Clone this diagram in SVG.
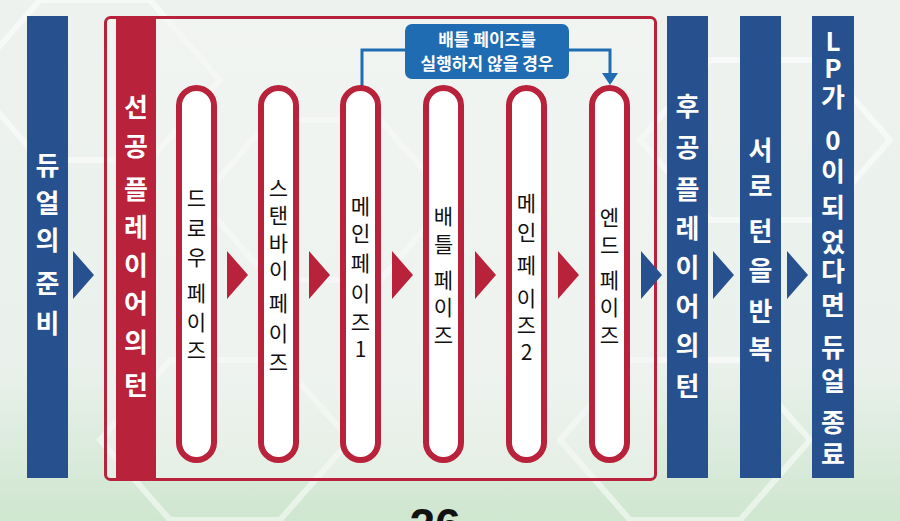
<svg xmlns="http://www.w3.org/2000/svg" width="900" height="521" viewBox="0 0 900 521">
<defs>
<linearGradient id="bg" x1="0" y1="0" x2="0" y2="1">
<stop offset="0" stop-color="#eef2ef"/>
<stop offset="0.7" stop-color="#eaf1ec"/>
<stop offset="1" stop-color="#cfe6cf"/>
</linearGradient>
<style>
.bcol{fill:#27508e}
.rcol{fill:#b8233b}
.pill{fill:#ffffff;stroke:#b8233b;stroke-width:6}
.ctext{font-family:"Noto Sans CJK KR","Noto Sans",sans-serif;font-weight:700;font-size:26px;fill:#ffffff;text-anchor:middle}
.ptext{font-family:"Noto Sans CJK KR","Noto Sans",sans-serif;font-weight:400;font-size:21px;fill:#111111;text-anchor:middle}
.btext{font-family:"Noto Sans CJK KR","Noto Sans",sans-serif;font-weight:700;font-size:17px;fill:#ffffff;text-anchor:middle}
.barr{fill:#27508e}
.rarr{fill:#b8233b}
.hex{fill:none;stroke:#ffffff;stroke-width:6;opacity:0.5}
.conn{fill:none;stroke:#1f6cb3;stroke-width:3}
</style>
</defs>
<rect x="0" y="0" width="900" height="521" fill="url(#bg)"/>
<g id="background">
<polygon class="hex" points="-30,80 40,0 150,0 220,80 150,160 40,160"/>
<polygon class="hex" points="200,200 270,120 380,120 450,200 380,280 270,280"/>
<polygon class="hex" points="640,140 710,60 820,60 890,140 820,220 710,220"/>
<polygon class="hex" points="100,440 170,360 280,360 350,440 280,520 170,520"/>
<polygon class="hex" points="560,440 630,360 740,360 810,440 740,520 630,520"/>
</g>
<g id="turn-frame">
<rect x="105.5" y="17.5" width="550" height="462" rx="5" fill="#f3f6f4" fill-opacity="0.5" stroke="#b8233b" stroke-width="3"/>
</g>
<g id="connectors">
<polygon class="barr" points="73,251 94,275 73,299"/>
<polygon class="rarr" points="227,251 248,275 227,299"/>
<polygon class="rarr" points="309,251 330,275 309,299"/>
<polygon class="rarr" points="392,251 413,275 392,299"/>
<polygon class="rarr" points="475,251 496,275 475,299"/>
<polygon class="rarr" points="558,251 579,275 558,299"/>
<polygon class="barr" points="641,251 662,275 641,299"/>
<polygon class="barr" points="713,251 734,275 713,299"/>
<polygon class="barr" points="787,251 808,275 787,299"/>
<polyline class="conn" points="362,86 362,50 406,50"/>
<polyline class="conn" points="568,50 610,50 610,74"/>
<polygon points="602,73 618,73 610,85" fill="#1f6cb3"/>
</g>
<g id="duel-prep">
<rect class="bcol" x="27" y="16" width="41" height="462"/>
<text class="ctext"><tspan x="47.5" y="175">듀</tspan><tspan x="47.5" y="213">얼</tspan><tspan x="50.4" y="250">의 </tspan><tspan x="47.5" y="293">준</tspan><tspan x="47.5" y="333">비</tspan></text>
</g>
<g id="first-turn">
<rect class="rcol" x="116" y="17" width="40" height="462"/>
<text class="ctext"><tspan x="136" y="117">선</tspan><tspan x="138.9" y="156">공 </tspan><tspan x="136" y="199">플</tspan><tspan x="136" y="237">레</tspan><tspan x="136" y="275">이</tspan><tspan x="136" y="313">어</tspan><tspan x="138.9" y="352">의 </tspan><tspan x="136" y="395">턴</tspan></text>
</g>
<g id="draw-phase">
<rect class="pill" x="179" y="88" width="35" height="372" rx="17.5"/>
<text class="ptext"><tspan x="196.5" y="205.5">드</tspan><tspan x="196.5" y="235.5">로</tspan><tspan x="198.9" y="264.5">우 </tspan><tspan x="196.5" y="300.5">페</tspan><tspan x="196.5" y="329.5">이</tspan><tspan x="196.5" y="357.5">즈</tspan></text>
</g>
<g id="standby-phase">
<rect class="pill" x="261" y="88" width="35" height="372" rx="17.5"/>
<text class="ptext"><tspan x="278.5" y="195.5">스</tspan><tspan x="278.5" y="222.5">탠</tspan><tspan x="278.5" y="250.5">바</tspan><tspan x="280.9" y="277.5">이 </tspan><tspan x="278.5" y="310.5">페</tspan><tspan x="278.5" y="340.5">이</tspan><tspan x="278.5" y="369.5">즈</tspan></text>
</g>
<g id="main-phase-1">
<rect class="pill" x="343" y="88" width="35" height="372" rx="17.5"/>
<text class="ptext"><tspan x="360.5" y="213.5">메</tspan><tspan x="362.9" y="240.5">인 </tspan><tspan x="360.5" y="270.5">페</tspan><tspan x="360.5" y="300.5">이</tspan><tspan x="360.5" y="329.5">즈</tspan><tspan x="360.5" y="356.5">1</tspan></text>
</g>
<g id="battle-phase">
<rect class="pill" x="426" y="88" width="35" height="372" rx="17.5"/>
<text class="ptext"><tspan x="443.5" y="223.5">배</tspan><tspan x="445.9" y="251.5">틀 </tspan><tspan x="443.5" y="287.5">페</tspan><tspan x="443.5" y="314.5">이</tspan><tspan x="443.5" y="342.5">즈</tspan></text>
</g>
<g id="main-phase-2">
<rect class="pill" x="509" y="88" width="35" height="372" rx="17.5"/>
<text class="ptext"><tspan x="526.5" y="210.5">메</tspan><tspan x="528.9" y="239.5">인 </tspan><tspan x="526.5" y="272.5">페</tspan><tspan x="526.5" y="305.5">이</tspan><tspan x="526.5" y="332.5">즈</tspan><tspan x="526.5" y="359.5">2</tspan></text>
</g>
<g id="end-phase">
<rect class="pill" x="592" y="88" width="35" height="372" rx="17.5"/>
<text class="ptext"><tspan x="609.5" y="224.5">엔</tspan><tspan x="611.9" y="252.5">드 </tspan><tspan x="609.5" y="287.5">페</tspan><tspan x="609.5" y="314.5">이</tspan><tspan x="609.5" y="342.5">즈</tspan></text>
</g>
<g id="skip-battle-note">
<rect x="405" y="24" width="164" height="55" rx="7" fill="#1f6cb3"/>
<text class="btext"><tspan x="487" y="46">배틀 페이즈를</tspan><tspan x="487" y="70">실행하지 않을 경우</tspan></text>
</g>
<g id="second-turn">
<rect class="bcol" x="667" y="16" width="41" height="462"/>
<text class="ctext"><tspan x="687.5" y="116">후</tspan><tspan x="690.4" y="157">공 </tspan><tspan x="687.5" y="199">플</tspan><tspan x="687.5" y="238">레</tspan><tspan x="687.5" y="277">이</tspan><tspan x="687.5" y="316">어</tspan><tspan x="690.4" y="355">의 </tspan><tspan x="687.5" y="396">턴</tspan></text>
</g>
<g id="repeat-turns">
<rect class="bcol" x="740" y="16" width="41" height="462"/>
<text class="ctext"><tspan x="760.5" y="160">서</tspan><tspan x="763.4" y="196">로 </tspan><tspan x="760.5" y="241">턴</tspan><tspan x="763.4" y="280">을 </tspan><tspan x="760.5" y="321">반</tspan><tspan x="760.5" y="359">복</tspan></text>
</g>
<g id="duel-end">
<rect class="bcol" x="812" y="16" width="42" height="462"/>
<text class="ctext"><tspan x="833" y="51">L</tspan><tspan x="833" y="78">P</tspan><tspan x="835.9" y="107">가 </tspan><tspan x="833" y="150">0</tspan><tspan x="835.9" y="181">이 </tspan><tspan x="833" y="217">되</tspan><tspan x="833" y="252">었</tspan><tspan x="833" y="281">다</tspan><tspan x="835.9" y="315">면 </tspan><tspan x="833" y="357">듀</tspan><tspan x="835.9" y="391">얼 </tspan><tspan x="833" y="432">종</tspan><tspan x="833" y="464">료</tspan></text>
</g>
<text x="435" y="541" font-family="'Liberation Sans',Arial,sans-serif" font-weight="700" font-size="46" fill="#111111" text-anchor="middle">26</text>
</svg>
